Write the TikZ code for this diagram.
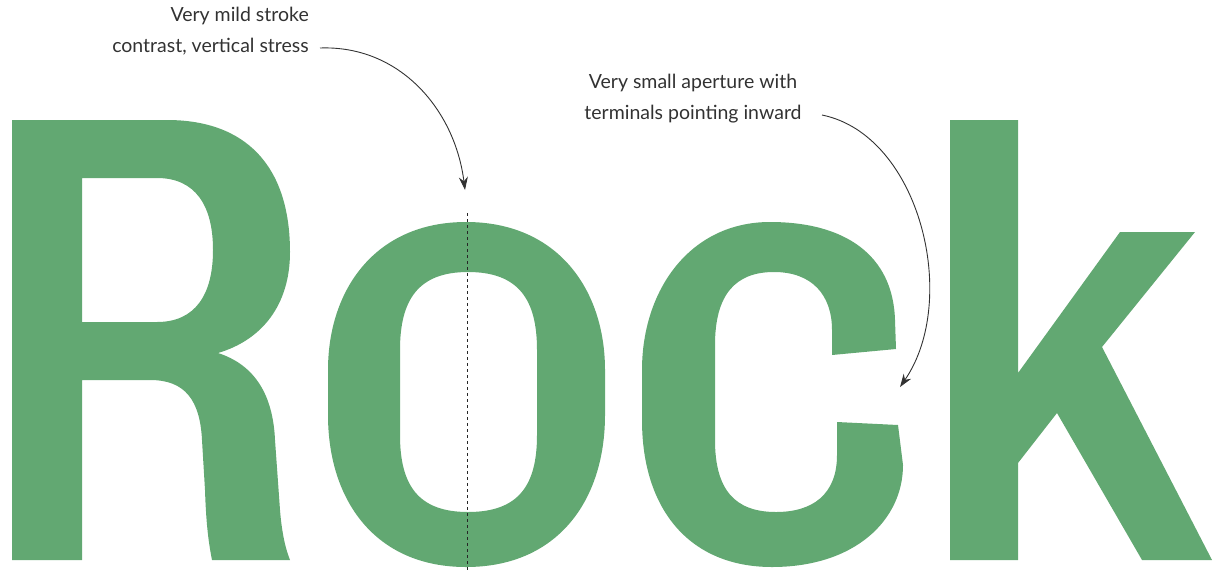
\documentclass[tikz,border=0pt]{standalone}
\usepackage{fontspec}
\setmainfont{Lato}
\usetikzlibrary{arrows.meta}
\definecolor{leaf}{RGB}{98,168,114}
\definecolor{ink}{RGB}{50,50,50}
\tikzset{
  glyph/.style={fill=leaf, even odd rule},
  label/.style={text=ink, font=\fontsize{19.5}{31}\selectfont, inner sep=0pt},
  callout/.style={draw=ink, line width=0.9pt, -{Stealth[length=13pt,width=9pt]}},
  axis/.style={draw=black!85, line width=1pt, dash pattern=on 3pt off 3pt}
}
\begin{document}
\begin{tikzpicture}[x=1pt,y=-1pt]
\useasboundingbox (0,0) rectangle (1225,571);
% R
\fill[glyph] (12,120) -- (167,120) .. controls (245,120) and (290,165) .. (290,252)
  .. controls (290,305) and (262,340) .. (218,353)
  .. controls (255,365) and (273,395) .. (275,440) -- (280,510)
  .. controls (282,535) and (286,550) .. (290,560) -- (212,560)
  .. controls (208,540) and (206,520) .. (205,490) -- (202,440)
  .. controls (200,400) and (185,380) .. (150,380) -- (82,380) -- (82,560) -- (12,560) -- cycle
  (82,178) -- (157,178) .. controls (195,178) and (213,205) .. (213,250)
  .. controls (213,295) and (195,322) .. (157,322) -- (82,322) -- cycle;
% o
\fill[glyph] (466,222) .. controls (375,222) and (328,290) .. (328,370) -- (328,415)
  .. controls (328,500) and (375,567) .. (466,567) .. controls (558,567) and (605,500) .. (605,415)
  -- (605,370) .. controls (605,290) and (558,222) .. (466,222) -- cycle
  (468,272) .. controls (418,272) and (400,300) .. (400,350) -- (400,435)
  .. controls (400,485) and (418,512) .. (468,512) .. controls (519,512) and (537,485) .. (537,435)
  -- (537,350) .. controls (537,300) and (519,272) .. (468,272) -- cycle;
% c
\fill[glyph] (896,349) -- (895,320) .. controls (893,255) and (845,222) .. (770,222)
  .. controls (690,222) and (642,290) .. (642,370) -- (642,420)
  .. controls (642,510) and (690,567) .. (772,567) .. controls (855,567) and (903,520) .. (903,465)
  -- (898,425) -- (837,422) -- (837,455) .. controls (837,495) and (812,512) .. (776,512)
  .. controls (735,512) and (715,490) .. (715,440) -- (715,345)
  .. controls (715,295) and (735,272) .. (774,272) .. controls (812,272) and (832,295) .. (832,330)
  -- (832,355) -- cycle;
% k
\fill[glyph] (950,120) -- (1018,120) -- (1018,373) -- (1120,232) -- (1195,232) -- (1102,347)
  -- (1212,560) -- (1142,560) -- (1057,413) -- (1018,463) -- (1018,560) -- (950,560) -- cycle;
% stress axis
\coordinate (axtop) at (467,213);
\coordinate (axbot) at (467,571);
\draw[axis] (axtop) -- (axbot);
% labels
\node[label, align=right, anchor=east] (lab1) at (309,31) {Very mild stroke\\contrast, vertical stress};
\node[label, align=center, anchor=center] (lab2) at (693,99) {Very small aperture with\\terminals pointing inward};
\coordinate (s1) at (320,48);
\coordinate (t1) at (465,190);
\coordinate (s2) at (822,115);
\coordinate (t2) at (900,387);
\draw[callout] (s1) .. controls (400,45) and (455,110) .. (t1);
\draw[callout] (s2) .. controls (920,135) and (960,300) .. (t2);
\end{tikzpicture}
\end{document}
